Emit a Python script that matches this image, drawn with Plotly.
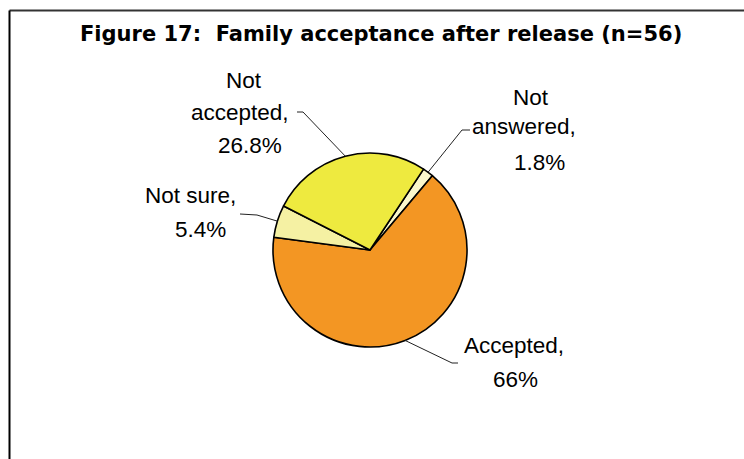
import math
import plotly.graph_objects as go

# Survey responses (n=56), in drawing order clockwise
labels = ["Not answered", "Accepted", "Not sure", "Not accepted"]
values = [1.8, 66, 5.4, 26.8]
colors = ["#FAF7CC", "#F39623", "#F5F1A3", "#EEEA3F"]
label_lines = [["Not", "answered,"], ["Accepted,"], ["Not sure,"], ["Not", "accepted,"]]
title_text = "Figure 17: \u00a0Family acceptance after release (n=56)"

W, H = 744, 459
CX, CY, R = 370, 250, 97      # pie centre and radius in pixels
ROTATION = 33.5               # start angle of the first slice, clockwise from 12 o'clock


def px(x):
    return x / W


def py(y):
    return 1 - y / H


fig = go.Figure(
    go.Pie(
        labels=labels,
        values=values,
        sort=False,
        direction="clockwise",
        rotation=ROTATION,
        marker=dict(colors=colors, line=dict(color="black", width=1.6)),
        textinfo="none",
        hoverinfo="label+percent",
        domain=dict(x=[px(CX - R), px(CX + R)], y=[py(CY + R), py(CY - R)]),
        showlegend=False,
    )
)

# Text placement for each label line (centre x, centre y) in pixels
line_pos = [
    [(531, 97), (524, 126), (539, 162)],
    [(514, 345), (515, 379)],
    [(190, 196), (200, 230)],
    [(244, 80), (240, 113), (250, 145)],
]
# Leader line: label end, elbow (pixels); the pie end is the slice midpoint on the rim
leader_pts = [
    [(470, 130), (462, 130)],
    [(458, 363), (452, 363)],
    [(240, 214), (257, 215)],
    [(297, 112), (303, 112)],
]

annotations = []
shapes = []
total = sum(values)
start = ROTATION
for name_lines, v, pos, lead in zip(label_lines, values, line_pos, leader_pts):
    texts = name_lines + [f"{v:g}%"]
    for t, (x, y) in zip(texts, pos):
        annotations.append(
            dict(
                text=t, x=px(x), y=py(y), xref="paper", yref="paper",
                xanchor="center", yanchor="middle", showarrow=False,
                font=dict(family="Liberation Sans, Arial, sans-serif", size=22.5, color="black"),
            )
        )
    span = v / total * 360
    mid = math.radians(start + span / 2)
    start += span
    ex, ey = CX + R * math.sin(mid), CY - R * math.cos(mid)
    (x0, y0), (x1, y1) = lead
    shapes.append(
        dict(
            type="path", xref="paper", yref="paper",
            path=f"M {px(x0)} {py(y0)} L {px(x1)} {py(y1)} L {px(ex)} {py(ey)}",
            line=dict(color="#222222", width=1),
        )
    )

annotations.append(
    dict(
        text=f"<b>{title_text}</b>", x=px(381), y=py(34), xref="paper", yref="paper",
        xanchor="center", yanchor="middle", showarrow=False,
        font=dict(family="DejaVu Sans, Verdana, sans-serif", size=21, color="black"),
    )
)

# Frame lines along the top and left edges
shapes.append(dict(type="line", xref="paper", yref="paper",
                   x0=px(9.5), y0=py(10.5), x1=1, y1=py(10.5),
                   line=dict(color="#333333", width=2)))
shapes.append(dict(type="line", xref="paper", yref="paper",
                   x0=px(9.5), y0=py(10.5), x1=px(9.5), y1=0,
                   line=dict(color="black", width=2)))

fig.update_layout(
    width=W, height=H,
    margin=dict(l=0, r=0, t=0, b=0),
    paper_bgcolor="white", plot_bgcolor="white",
    annotations=annotations, shapes=shapes,
)

fig.write_html("out.html")
